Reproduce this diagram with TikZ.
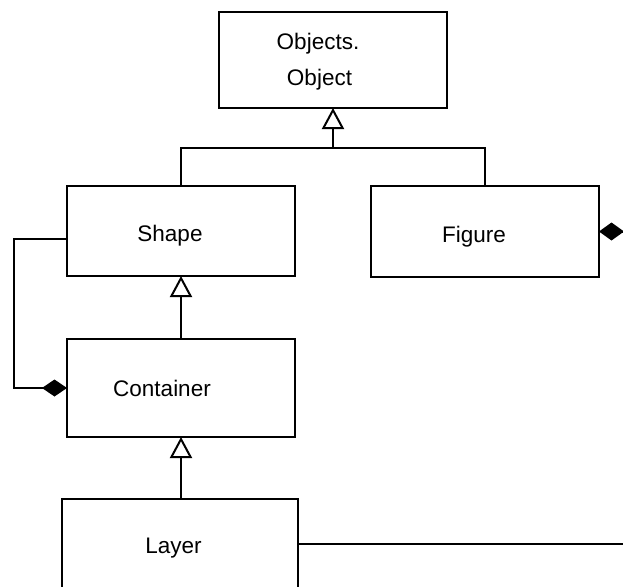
\documentclass[tikz,border=0pt]{standalone}
\usepackage{fontspec}
\setmainfont{Liberation Sans}
\usetikzlibrary{arrows.meta,calc}
\begin{document}
\begin{tikzpicture}[x=1pt,y=-1pt,
  cls/.style={draw=black,line width=2pt,fill=white,inner sep=0pt,outer sep=0pt},
  lbl/.style={anchor=base,inner sep=0pt,font=\fontsize{22.5}{27}\selectfont},
  conn/.style={draw=black,line width=2pt},
  inh/.style={conn,-{Triangle[open,length=21pt,width=22pt,line width=2pt]}},
  comp/.style={conn,-{Diamond[length=25pt,width=17pt]}},
  compstart/.style={conn,{Diamond[length=25pt,width=18pt]}-}]
\useasboundingbox (0,0) rectangle (623,586);
\clip (0,0) rectangle (623,586);
\fill[white] (0,0) rectangle (623,586);
% classes
\node[cls,minimum width=228pt,minimum height=96pt] (obj) at (333,60) {};
\node[cls,minimum width=228pt,minimum height=90pt] (shape) at (181,231) {};
\node[cls,minimum width=228pt,minimum height=91pt] (figure) at (485,231.5) {};
\node[cls,minimum width=228pt,minimum height=98pt] (container) at (181,388) {};
\node[cls,minimum width=236pt,minimum height=91pt] (layer) at (180,544) {};
% labels
\node[lbl] (objT1) at (318,49) {Objects.};
\node[lbl] (objT2) at (319.5,85) {Object};
\node[lbl] (shapeT) at (170,241) {Shape};
\node[lbl] (figT) at (474,242) {Figure};
\node[lbl] (contT) at (162,396.5) {Container};
\node[lbl] (layerT) at (173.5,553) {Layer};
% connectors
\coordinate (jn) at (333,148);
\draw[conn] (shape.north) |- (jn) -| (figure.north);
\draw[inh] (jn) -- (obj.south);
\draw[inh] (container.north) -- (shape.south);
\coordinate (lt) at (181,498.5);
\draw[inh] (lt) -- (container.south);
\coordinate (sl) at ($(shape.west)+(0,8)$);
\coordinate (lc) at (14,239);
\draw[comp] (sl) -- (lc) |- (container.west);
\coordinate (fe) at (640,231.5);
\draw[compstart] (figure.east) -- (fe);
\coordinate (le) at (640,544);
\draw[conn] (layer.east) -- (le);
\end{tikzpicture}
\end{document}
